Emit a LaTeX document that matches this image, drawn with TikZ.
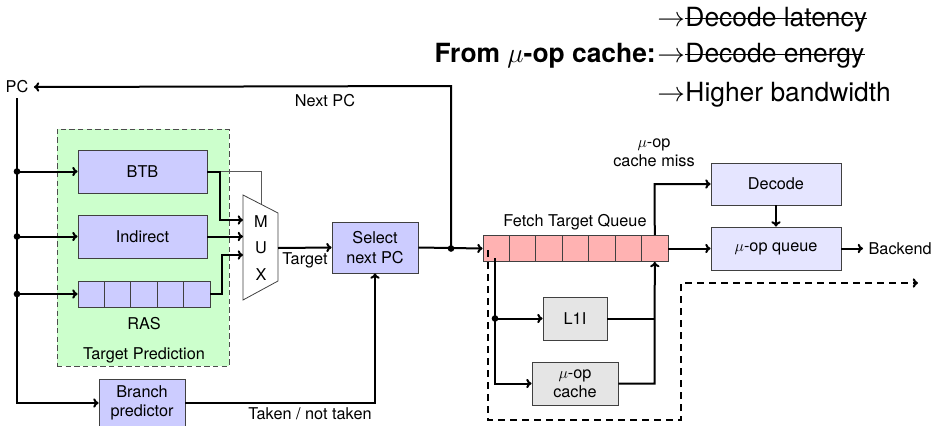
\documentclass[tikz,border=0pt]{standalone}
\usepackage{fontspec}
\setmainfont{TeX Gyre Heros}
\usetikzlibrary{arrows.meta}
\begin{document}
\begin{tikzpicture}[x=0.75pt,y=-0.75pt,
  font=\fontsize{12.2}{14.6}\selectfont,
  blk/.style={draw=black!75, line width=0.6pt, fill=blue!20, align=center, inner sep=1pt},
  lblk/.style={blk, fill=blue!10},
  gblk/.style={blk, fill=black!10},
  cell/.style={draw=black!75, line width=0.6pt, fill=blue!20, minimum width=19.8pt, minimum height=19.5pt, inner sep=0pt},
  qcell/.style={cell, fill=red!30},
  conn/.style={line width=1.5pt},
  arr/.style={conn, -{To[length=4pt,width=7pt]}},
  dot/.style={circle, fill=black, inner sep=0pt, minimum size=5pt},
  lbl/.style={inner sep=0pt, align=center},
  big/.style={font=\fontsize{19.8}{23}\selectfont},
  strike/.style={line width=1pt}
]
\useasboundingbox (0,0) rectangle (934,425);

% target prediction region
\node (tp) [draw=black!70, dash pattern=on 4pt off 2.5pt, line width=0.7pt, fill=green!20,
  minimum width=129pt, minimum height=177.75pt, inner sep=0pt] at (143,247.5) {};
\node (tplbl) [lbl] at (144,355) {Target Prediction};

% blocks
\node (btb) [blk, minimum width=96.75pt, minimum height=32.25pt] at (142.5,171.5) {BTB};
\node (ind) [blk, minimum width=96.75pt, minimum height=32.25pt] at (142.5,236.5) {Indirect};
\foreach \i in {1,...,5} {
  \node (ras\i) [cell] at ({78+26.4*(\i-0.5)},294) {};
}
\node (raslbl) [lbl] at (144,324) {RAS};

% MUX
\coordinate (m1) at (243,195);
\coordinate (m2) at (278,213);
\coordinate (m3) at (278,281);
\coordinate (m4) at (243,300);
\draw[draw=black!75, line width=0.6pt, fill=white] (m1) -- (m2) -- (m3) -- (m4) -- cycle;
\node (mux) [lbl, font=\fontsize{12.2}{20}\selectfont] at (261,248) {M\\U\\X};
\coordinate (muxtop) at (261,204.3);

\node (sel) [blk, minimum width=64.5pt, minimum height=38.25pt] at (375,247.5) {Select\\next PC};
\node (bp) [blk, minimum width=64.5pt, minimum height=36pt] at (142,403) {Branch\\predictor};

\node (pc) [lbl, inner xsep=4pt] at (17,87) {PC};

% fetch target queue
\foreach \i in {1,...,7} {
  \node (q\i) [qcell] at ({483+26.43*(\i-0.5)},248.5) {};
}
\node (ftqlbl) [lbl] at (575,222) {Fetch Target Queue};

\node (l1i) [gblk, minimum width=48pt, minimum height=32.25pt] at (575,318.5) {L1I};
\node (uc) [gblk, minimum width=64.5pt, minimum height=32.25pt] at (575,383.5) {$\mu$-op\\cache};
\node (dec) [lblk, minimum width=97.5pt, minimum height=31.5pt] at (776,184) {Decode};
\node (uq) [lblk, minimum width=97.5pt, minimum height=32.25pt] at (776,248.5) {$\mu$-op queue};
\node (be) [lbl, anchor=west, inner xsep=4pt] at (863,248.5) {Backend};

% top text
\node (from) [lbl, big, anchor=base east] at (656,62) {\bfseries From $\mu$-op cache:};
\node (a1) [lbl, big, anchor=base west] at (657,26) {$\rightarrow$};
\node (t1) [lbl, big, anchor=base west] at (a1.base east) {Decode latency};
\node (a2) [lbl, big, anchor=base west] at (657,62) {$\rightarrow$};
\node (t2) [lbl, big, anchor=base west] at (a2.base east) {Decode energy};
\node (a3) [lbl, big, anchor=base west] at (657,101) {$\rightarrow$};
\node (t3) [lbl, big, anchor=base west] at (a3.base east) {Higher bandwidth};
\draw[strike] ([yshift=5.4pt]t1.base west) -- ([yshift=5.4pt]t1.base east);
\draw[strike] ([yshift=5.4pt]t2.base west) -- ([yshift=5.4pt]t2.base east);

% connections from PC
\coordinate (pcb) at (17,98);
\node (d1) [dot] at (17,171.5) {};
\node (d2) [dot] at (17,236.5) {};
\node (d3) [dot] at (17,294) {};
\draw[arr] (pcb) -- (17,403) -- (bp.west);
\draw[arr] (d1.center) -- (btb.west);
\draw[arr] (d2.center) -- (ind.west);
\draw[arr] (d3.center) -- (ras1.west);

% into MUX
\draw[draw=black!65, line width=0.6pt] (btb.east) -- (261,171.5) -- (muxtop);
\draw[arr] (btb.east) -- (220,171.5) -- (220,220) -- (243,220);
\draw[arr] (ind.east) -- (243,236.5);
\draw[arr] (ras5.east) -- (222,294) -- (222,255) -- (243,255);

\draw[arr] (278,248) -- (sel.west);
\node (tgt) [lbl] at (305,260) {Target};
\draw[arr] (bp.east) -- (375,403) -- (sel.south);
\node (tk) [lbl] at (310,414) {Taken / not taken};

% select -> FTQ, next PC
\node (d4) [dot] at (451,248.5) {};
\draw[arr] (sel.east) -- (q1.west);
\draw[arr] (d4.center) -- (451,86) -- (pc.east);
\node (npc) [lbl] at (325,101) {Next PC};

% FTQ -> caches
\node (d5) [dot] at (495,318.5) {};
\draw[arr] (495,258.25) -- (495,383.5) -- (uc.west);
\draw[arr] (d5.center) -- (l1i.west);
\draw[conn] (l1i.east) -- (654.5,318.5);
\draw[arr] (uc.east) -- (654.5,383.5) -- (q7.south);

\draw[arr] (q7.north) -- (654.5,184) -- (dec.west);
\node (miss) [lbl] at (654,153) {$\mu$-op\\cache miss};
\draw[arr] (q7.east) -- (uq.west);
\draw[arr] (dec.south) -- (uq.north);
\draw[arr] (uq.east) -- (be.west);

% dashed path
\draw[line width=1.6pt, dash pattern=on 5pt off 4pt, -{To[length=4pt,width=7pt]}]
  (488,250) -- (488,420) -- (681,420) -- (681,283) -- (918,283);
\end{tikzpicture}
\end{document}
